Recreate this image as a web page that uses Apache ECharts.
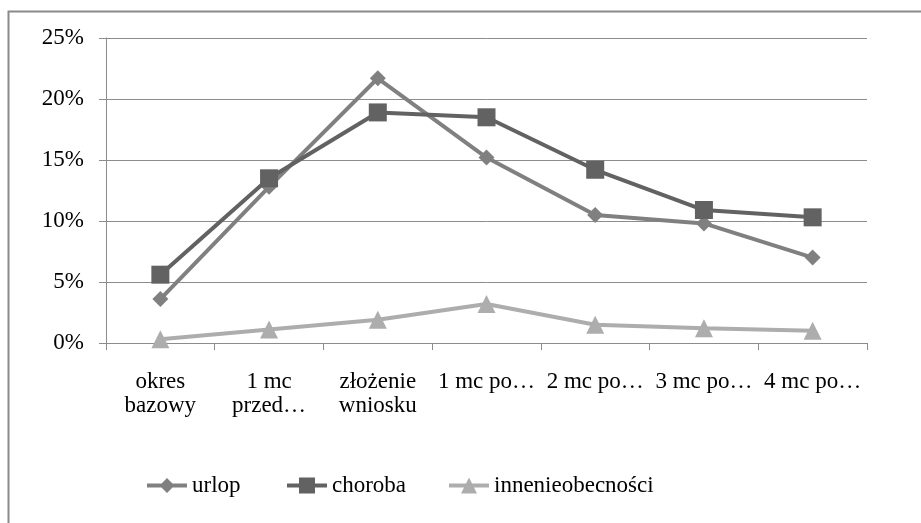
<!DOCTYPE html>
<html><head><meta charset="utf-8">
<script src="https://cdn.jsdelivr.net/npm/echarts@6/dist/echarts.min.js"></script>
<style>html,body{margin:0;padding:0;background:#fff}#c{width:921px;height:523px}</style>
</head><body><div id="c"></div>
<script>
const categories = ["okres\nbazowy", "1 mc\nprzed…", "złożenie\nwniosku", "1 mc po…", "2 mc po…", "3 mc po…", "4 mc po…"];
const urlop = [3.6, 12.8, 21.7, 15.2, 10.5, 9.8, 7.0];
const choroba = [5.6, 13.5, 18.9, 18.5, 14.2, 10.9, 10.3];
const inne = [0.3, 1.1, 1.9, 3.2, 1.5, 1.2, 1.0];
const yTicks = [0, 5, 10, 15, 20, 25];

const font = "Liberation Serif";
const chart = echarts.init(document.getElementById('c'), null, {renderer: 'canvas'});
const legendText = {fontFamily: font, fontSize: 23, color: '#000'};
const icons = {
  diamond: 'path://M0,7H40V11H0Z M20,1.5L27.5,9L20,16.5L12.5,9Z',
  square: 'path://M0,7H40V11H0Z M12,1H28V17H12Z',
  triangle: 'path://M0,7H40V11H0Z M20,1L28,17L12,17Z'
};
const lg = (name, left, icon) => ({data: [{name: name, icon: icon}], left: left, top: 474, padding: 0,
  itemWidth: 40, itemHeight: 18, itemGap: 0, textStyle: legendText});
chart.setOption({
  animation: false,
  graphic: [{type: 'rect', shape: {x: 8.5, y: 11.5, width: 940, height: 540}, style: {fill: 'none', stroke: '#8a8a8a', lineWidth: 2}}],
  grid: {left: 106, right: 54, top: 38, bottom: 180},
  legend: [lg('urlop', 147, icons.diamond), lg('choroba', 287, icons.square), lg('innenieobecności', 449, icons.triangle)],
  xAxis: {
    type: 'category', data: categories, boundaryGap: true,
    axisLine: {lineStyle: {color: '#8c8c8c', width: 1}},
    axisTick: {show: true, length: 7, lineStyle: {color: '#8c8c8c'}},
    axisLabel: {fontFamily: font, fontSize: 23, color: '#000', margin: 27, lineHeight: 24, interval: 0}
  },
  yAxis: {
    type: 'value', min: 0, max: 25, interval: 5,
    axisLine: {show: true, lineStyle: {color: '#8c8c8c'}},
    axisTick: {show: true, length: 7, lineStyle: {color: '#8c8c8c'}},
    splitLine: {lineStyle: {color: '#8c8c8c', width: 1}},
    axisLabel: {fontFamily: font, fontSize: 23, color: '#000', margin: 22,
      formatter: v => yTicks.includes(v) ? v + '%' : ''}
  },
  series: [
    {name: 'urlop', type: 'line', data: urlop, symbol: 'diamond', symbolSize: 16,
      lineStyle: {color: '#808080', width: 4}, itemStyle: {color: '#808080'}},
    {name: 'choroba', type: 'line', data: choroba, symbol: 'rect', symbolSize: 18,
      lineStyle: {color: '#626262', width: 4}, itemStyle: {color: '#626262'}},
    {name: 'innenieobecności', type: 'line', data: inne, symbol: 'triangle', symbolSize: 18,
      lineStyle: {color: '#adadad', width: 4}, itemStyle: {color: '#adadad'}}
  ]
});
</script></body></html>
